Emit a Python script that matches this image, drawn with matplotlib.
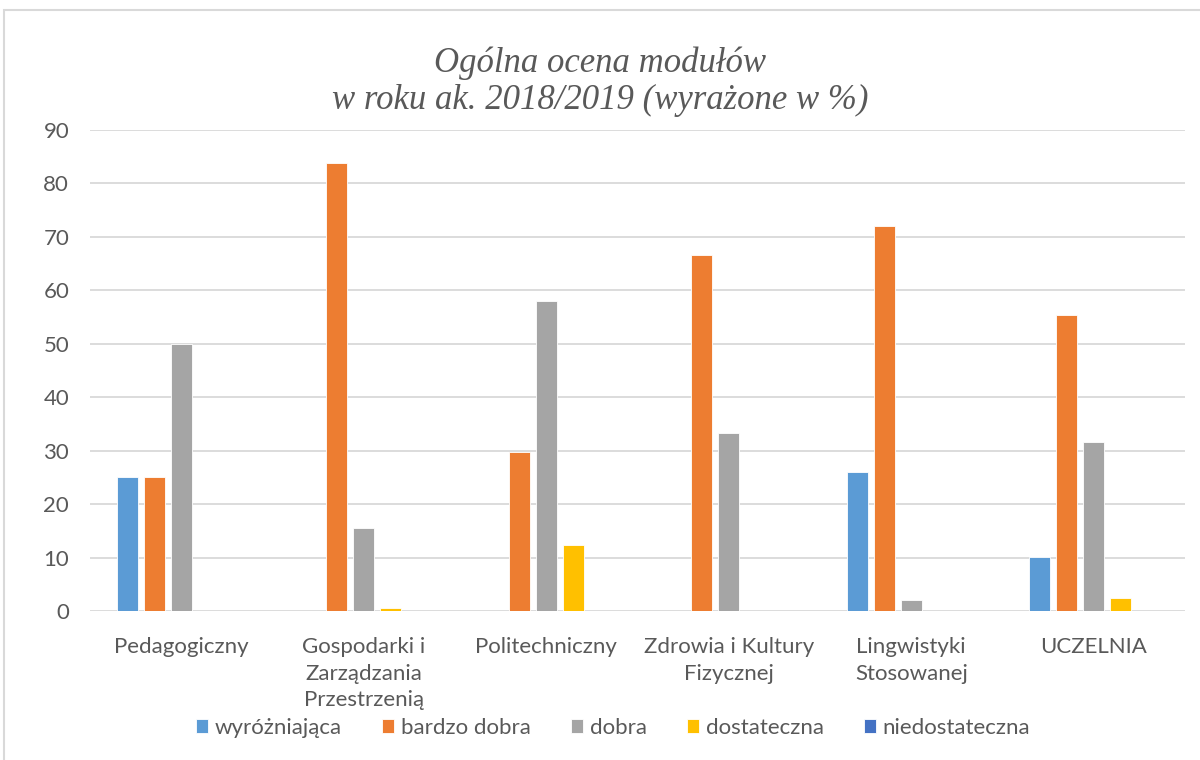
import numpy as np
import matplotlib.pyplot as plt
from matplotlib.patches import Rectangle

categories = ["Pedagogiczny", "Gospodarki i\nZarządzania\nPrzestrzenią", "Politechniczny",
              "Zdrowia i Kultury\nFizycznej", "Lingwistyki\nStosowanej", "UCZELNIA"]
series = ["wyróżniająca", "bardzo dobra", "dobra", "dostateczna", "niedostateczna"]
wyrozniajaca = [25.0, 0, 0, 0, 26.0, 10.1]
bardzo_dobra = [25.0, 83.8, 29.7, 66.7, 72.0, 55.4]
dobra = [50.0, 15.6, 58.0, 33.3, 2.0, 31.7]
dostateczna = [0, 0.6, 12.3, 0, 0, 2.4]
niedostateczna = [0, 0, 0, 0, 0, 0]
colors = ["#5B9BD5", "#ED7D31", "#A5A5A5", "#FFC000", "#4472C4"]

text_col = "#595959"
plt.rcParams['font.family'] = ['Lato', 'DejaVu Sans']

fig = plt.figure(figsize=(12, 7.6), dpi=100)
fig.patches.append(Rectangle((4 / 1200, -0.01), 1.0, 1 - 10 / 760 + 0.01, transform=fig.transFigure,
                             fill=False, edgecolor="#D9D9D9", linewidth=1.5))
ax = fig.add_axes([90 / 1200, 1 - 611 / 760, 1095 / 1200, 481 / 760])

x = np.arange(len(categories))
width = 0.115
step = 0.148
values = [wyrozniajaca, bardzo_dobra, dobra, dostateczna, niedostateczna]
for i, (name, vals) in enumerate(zip(series, values)):
    ax.bar(x + (i - 2) * step, vals, width, color=colors[i], label=name,
           edgecolor="white", linewidth=0.6, zorder=3)

ax.set_xlim(-0.5, len(categories) - 0.5)
ax.set_ylim(0, 90)
ax.set_yticks(range(0, 91, 10))
ax.set_xticks(x)
ax.set_xticklabels(categories, linespacing=1.4, va="top")
ax.grid(axis="y", color="#D9D9D9", linewidth=1.3, zorder=0)
for s in ax.spines.values():
    s.set_visible(False)
ax.tick_params(length=0, labelsize=16, colors=text_col)
ax.tick_params(axis="x", pad=19)
ax.tick_params(axis="y", pad=15)

fig.text(0.5, 1 - 82 / 760, "Ogólna ocena modułów\nw roku ak. 2018/2019 (wyrażone w %)",
         ha="center", va="center", fontsize=25, style="italic", family="Liberation Serif",
         color=text_col, linespacing=1.15)

fig.legend(loc="center", bbox_to_anchor=(0.511, 1 - 728 / 760), ncol=5, frameon=False,
           fontsize=16, labelcolor=text_col, handlelength=0.55, handleheight=0.55,
           handletextpad=0.3, columnspacing=1.8)

fig.savefig("out.png", dpi=100)
